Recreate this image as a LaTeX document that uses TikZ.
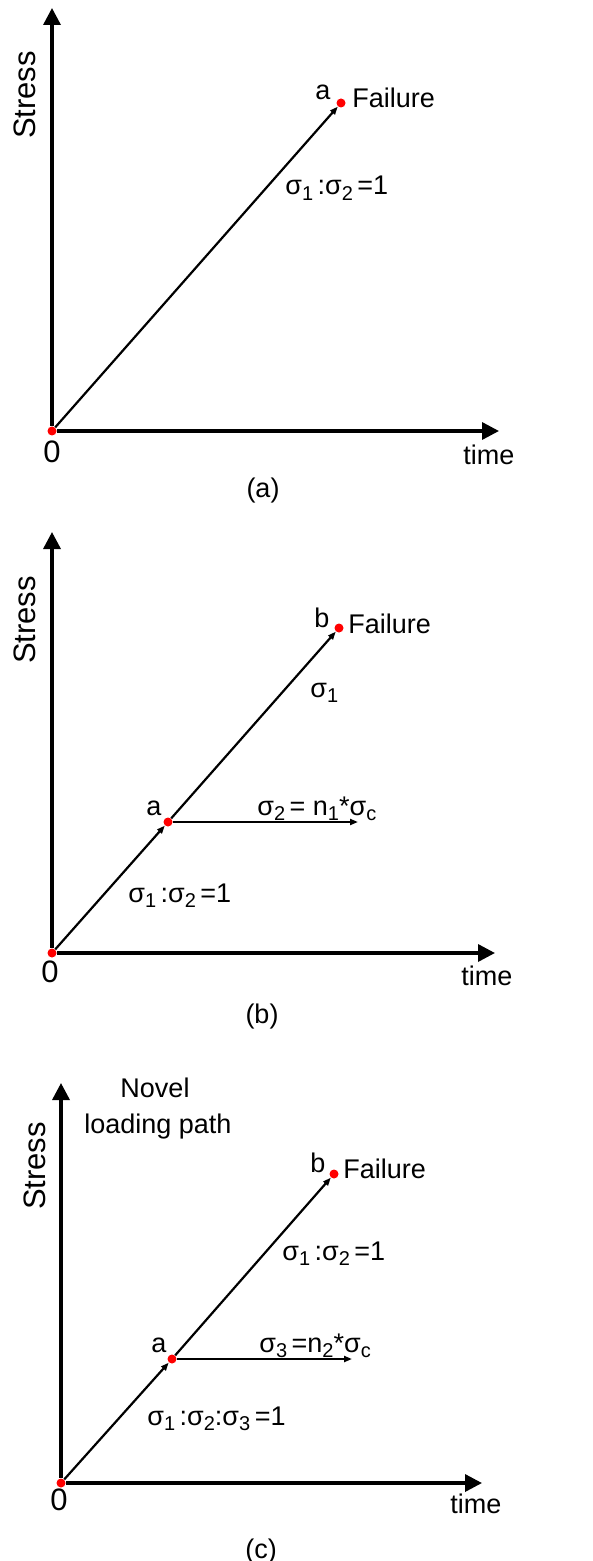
\documentclass[tikz,border=0pt]{standalone}
\usepackage{fontspec}
\setmainfont{Liberation Sans}
\usetikzlibrary{arrows.meta}
\newcommand{\sbs}[1]{\raisebox{-0.4ex}{\fontsize{10}{12}\selectfont #1}}

\begin{document}
\begin{tikzpicture}[
    x=0.5pt, y=-0.5pt,
    axis/.style={line width=1.7pt, -{Triangle[length=8.5pt,width=8.5pt]}},
    loadpath/.style={line width=1.1pt, -{Triangle[length=4pt,width=3pt]}},
    reddot/.style={circle, fill=red, inner sep=0pt, minimum size=4.5pt},
    txt/.style={font=\fontsize{13.5}{15}\selectfont, inner sep=0pt},
    big/.style={font=\fontsize{15.5}{17}\selectfont, inner sep=0pt},
    ylabel/.style={big, rotate=90, anchor=base}
]
\useasboundingbox (0,0) rectangle (593,1561);

% --- Panel (a) ---
\node[reddot] (oa) at (52,431) {};
\node[reddot] (fa) at (341,103) {};
\coordinate (ya) at (52,8);
\coordinate (xa) at (499,431);
\draw[axis] (oa) -- (ya);
\draw[axis] (oa) -- (xa);
\draw[loadpath] (oa) -- (fa);

\node[ylabel] (sa) at (35,95) {Stress};
\node[big, anchor=base] (za) at (52,462) {0};
\node[txt, anchor=base west] (ta) at (463,465) {time};
\node[txt, anchor=base] (pa) at (323,100) {a};
\node[txt, anchor=base west] (fla) at (352,108) {Failure};
\node[txt, anchor=base west] (ra) at (285,195) {σ\sbs{1}\,:σ\sbs{2}\,=1};
\node[txt, anchor=base] (ca) at (263,497) {(a)};

% --- Panel (b) ---
\node[reddot] (ob) at (52,953) {};
\node[reddot] (ab) at (168,822) {};
\node[reddot] (bb) at (339,628) {};
\coordinate (yb) at (52,532);
\coordinate (xb) at (495,953);
\coordinate (hb) at (358,822);
\draw[axis] (ob) -- (yb);
\draw[axis] (ob) -- (xb);
\draw[loadpath] (ob) -- (ab);
\draw[loadpath] (ab) -- (bb);
\draw[loadpath] (ab) -- (hb);

\node[ylabel] (sb) at (35,620) {Stress};
\node[big, anchor=base] (zb) at (50,982) {0};
\node[txt, anchor=base west] (tb) at (461,985) {time};
\node[txt, anchor=base] (pb) at (322,627) {b};
\node[txt, anchor=base west] (flb) at (348,633) {Failure};
\node[txt, anchor=base west] (s1b) at (310,697) {σ\sbs{1}};
\node[txt, anchor=base] (qb) at (154,815) {a};
\node[txt, anchor=base west] (s2b) at (257,815) {σ\sbs{2}\,= n\sbs{1}*σ\sbs{c}};
\node[txt, anchor=base west] (rb) at (128,902) {σ\sbs{1}\,:σ\sbs{2}\,=1};
\node[txt, anchor=base] (cb) at (262,1023) {(b)};

% --- Panel (c) ---
\node[reddot] (oc) at (61,1483) {};
\node[reddot] (ac) at (172,1359) {};
\node[reddot] (bc) at (334,1174) {};
\coordinate (yc) at (61,1083);
\coordinate (xc) at (482,1483);
\coordinate (hc) at (352,1359);
\draw[axis] (oc) -- (yc);
\draw[axis] (oc) -- (xc);
\draw[loadpath] (oc) -- (ac);
\draw[loadpath] (ac) -- (bc);
\draw[loadpath] (ac) -- (hc);

\node[ylabel] (sc) at (45,1166) {Stress};
\node[big, anchor=base] (zc) at (59,1510) {0};
\node[txt, anchor=base west] (tc) at (450,1513) {time};
\node[txt, anchor=base] (nv) at (155,1097) {Novel};
\node[txt, anchor=base] (lp) at (158,1133) {loading path};
\node[txt, anchor=base] (pc) at (318,1172) {b};
\node[txt, anchor=base west] (flc) at (343,1178) {Failure};
\node[txt, anchor=base west] (rc) at (282,1260) {σ\sbs{1}\,:σ\sbs{2}\,=1};
\node[txt, anchor=base] (qc) at (159,1352) {a};
\node[txt, anchor=base west] (s3c) at (259,1352) {σ\sbs{3}\,=n\sbs{2}*σ\sbs{c}};
\node[txt, anchor=base west] (rc2) at (147,1425) {σ\sbs{1}\,:σ\sbs{2}:σ\sbs{3}\,=1};
\node[txt, anchor=base] (cc) at (261,1558) {(c)};

\end{tikzpicture}
\end{document}
